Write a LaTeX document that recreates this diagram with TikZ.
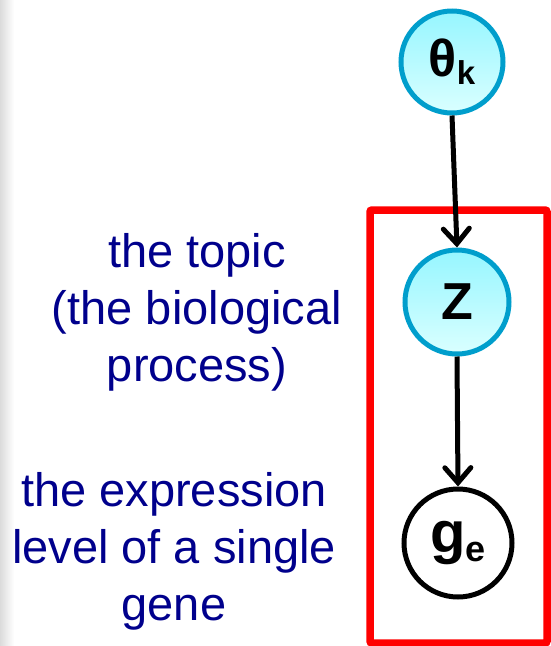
\documentclass[tikz,border=0pt]{standalone}
\usepackage{fontspec}
\setmainfont{Liberation Sans}
\usetikzlibrary{arrows.meta}
\definecolor{navytext}{RGB}{0,0,140}
\definecolor{cyanedge}{RGB}{0,158,204}
\definecolor{cyantop}{RGB}{150,246,255}
\definecolor{cyanbot}{RGB}{218,255,255}
\definecolor{platered}{RGB}{255,0,0}
\tikzset{
  topicnode/.style={circle, draw=cyanedge, line width=5pt, top color=cyantop, bottom color=cyanbot, inner sep=0pt, font=\bfseries},
  obsnode/.style={circle, draw=black, line width=5pt, fill=white, inner sep=0pt, font=\bfseries},
  dep/.style={line width=5pt, -{Straight Barb[length=15pt,width=26pt,line width=5pt,line cap=round]}},
  plate/.style={draw=platered, line width=7.5pt, rounded corners=2pt},
  desc/.style={text=navytext, align=center, font=\fontsize{47}{57}\selectfont}
}
\begin{document}
\begin{tikzpicture}[x=1pt,y=-1pt]
\useasboundingbox (0,0) rectangle (550,646);
\shade[left color=black!14, right color=white] (0,0) rectangle (14,646);
\draw[plate] (370,210) rectangle (547,643);
\node[topicnode, minimum size=102pt] (theta) at (452,62) {\fontsize{52}{56}\selectfont θ\raisebox{-8pt}{\fontsize{33}{35}\selectfont k}};
\node[topicnode, minimum size=104pt] (z) at (457,302) {\fontsize{52}{56}\selectfont Z};
\node[obsnode, minimum size=108pt] (g) at (458,543) {\fontsize{58}{62}\selectfont g\raisebox{-9pt}{\fontsize{36}{38}\selectfont e}};
\draw[dep] (theta.south) -- (z.north);
\draw[dep] (z.south) -- (g.north);
\node[desc] (topic) at (197,312) {the topic\\(the biological\\process)};
\node[desc] (expr) at (174,551) {the expression\\level of a single\\gene};
\end{tikzpicture}
\end{document}
